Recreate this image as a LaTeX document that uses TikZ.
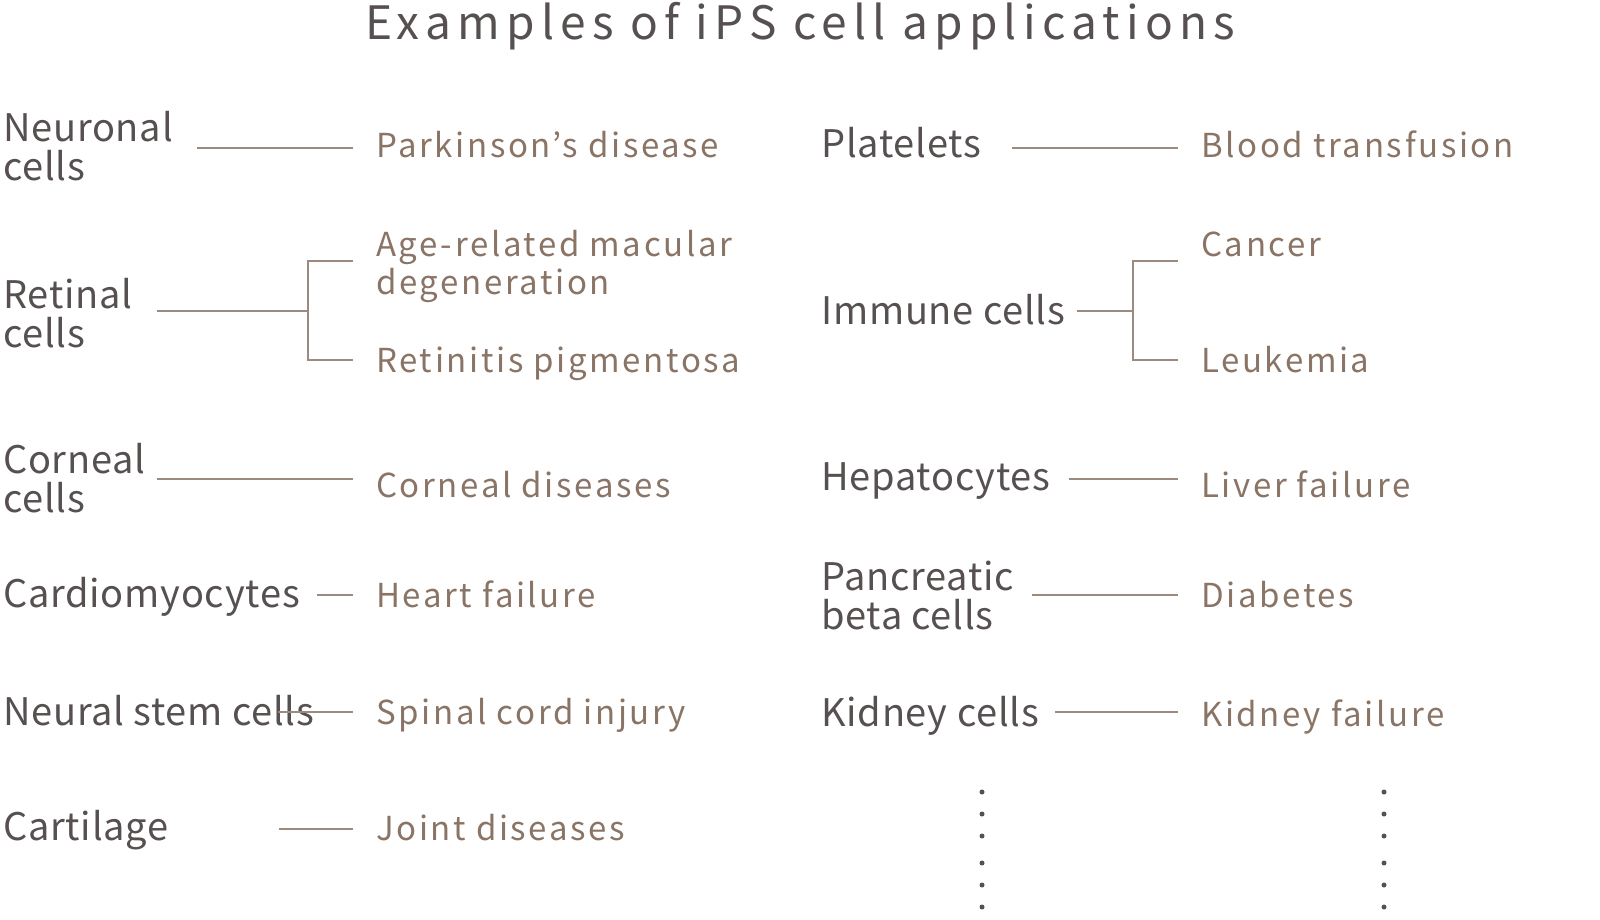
\documentclass[tikz,border=0pt]{standalone}
\usepackage{fontspec}
\setmainfont{Noto Sans CJK JP}
\definecolor{dark}{HTML}{575050}
\definecolor{brownt}{HTML}{8A7466}
\definecolor{linec}{HTML}{9C8A7E}
\begin{document}
\begin{tikzpicture}[x=1pt,y=-1pt,
  cell/.style={anchor=base west, inner sep=0pt, align=left, text=dark,
    font=\fontsize{38}{39}\selectfont\addfontfeatures{LetterSpace=2}},
  dis/.style={anchor=base west, inner sep=0pt, align=left, text=brownt,
    font=\fontsize{33}{38}\selectfont\addfontfeatures{LetterSpace=8}},
  conn/.style={draw=linec, line width=1.5pt},
  dotf/.style={fill=dark, draw=none}]
\useasboundingbox (0,0) rectangle (1600,919);
% title
\node[anchor=base, inner sep=0pt, text=dark, font=\fontsize{46}{46}\selectfont\addfontfeatures{LetterSpace=13.5}] (title) at (800,39) {Examples of iPS cell applications};
% left column cells (base = last line baseline)
\node[cell] (neu) at (3,180) {Neuronal\\cells};
\node[cell] (ret) at (3,347) {Retinal\\cells};
\node[cell] (cor) at (3,512) {Corneal\\cells};
\node[cell] (car) at (3,607) {Cardiomyocytes};
\node[cell] (nsc) at (3,725) {Neural stem cells};
\node[cell] (cart) at (3,840) {Cartilage};
% left diseases
\node[dis] (park) at (376,157) {Parkinson’s disease};
\node[dis] (amd) at (376,294) {Age-related macular\\degeneration};
\node[dis] (rp) at (376,372) {Retinitis pigmentosa};
\node[dis] (cd) at (376,497) {Corneal diseases};
\node[dis] (hf) at (376,607) {Heart failure};
\node[dis] (sci) at (376,724) {Spinal cord injury};
\node[dis] (jd) at (376,840) {Joint diseases};
% right column cells
\node[cell] (plt) at (821,157) {Platelets};
\node[cell] (imm) at (821,324) {Immune cells};
\node[cell] (hep) at (821,490) {Hepatocytes};
\node[cell] (pan) at (821,629) {Pancreatic\\beta cells};
\node[cell] (kid) at (821,726) {Kidney cells};
% right diseases
\node[dis] (bt) at (1201,157) {Blood transfusion};
\node[dis] (can) at (1201,256) {Cancer};
\node[dis] (leu) at (1201,372) {Leukemia};
\node[dis] (lf) at (1201,497) {Liver failure};
\node[dis] (dia) at (1201,607) {Diabetes};
\node[dis] (kf) at (1201,726) {Kidney failure};
% connector coordinates
\coordinate (neuS) at (197,148);  \coordinate (parkE) at (353,148);
\coordinate (retS) at (157,311);  \coordinate (retJ) at (308,311);
\coordinate (amdE) at (353,261);  \coordinate (rpE) at (353,360);
\coordinate (corS) at (157,479);  \coordinate (cdE) at (353,479);
\coordinate (carS) at (317,595);  \coordinate (hfE) at (353,595);
\coordinate (nscS) at (278,712);  \coordinate (sciE) at (353,712);
\coordinate (cartS) at (279,829); \coordinate (jdE) at (353,829);
\coordinate (pltS) at (1012,148); \coordinate (btE) at (1178,148);
\coordinate (immS) at (1077,311); \coordinate (immJ) at (1133,311);
\coordinate (canE) at (1178,261); \coordinate (leuE) at (1178,360);
\coordinate (hepS) at (1069,479); \coordinate (lfE) at (1178,479);
\coordinate (panS) at (1032,595); \coordinate (diaE) at (1178,595);
\coordinate (kidS) at (1055,712); \coordinate (kfE) at (1178,712);
% connectors
\draw[conn] (neuS) -- (parkE);
\draw[conn] (retS) -- (retJ);
\draw[conn] (amdE) -- (amdE -| retJ) -- (rpE -| retJ) -- (rpE);
\draw[conn] (corS) -- (cdE);
\draw[conn] (carS) -- (hfE);
\draw[conn] (nscS) -- (sciE);
\draw[conn] (cartS) -- (jdE);
\draw[conn] (pltS) -- (btE);
\draw[conn] (immS) -- (immJ);
\draw[conn] (canE) -- (canE -| immJ) -- (leuE -| immJ) -- (leuE);
\draw[conn] (hepS) -- (lfE);
\draw[conn] (panS) -- (diaE);
\draw[conn] (kidS) -- (kfE);
% continuation dots
\foreach \yy in {792,814,836,863,885,907} {
  \fill[dotf] (982,\yy) circle (2.5);
  \fill[dotf] (1384,\yy) circle (2.5);
}
\end{tikzpicture}
\end{document}
